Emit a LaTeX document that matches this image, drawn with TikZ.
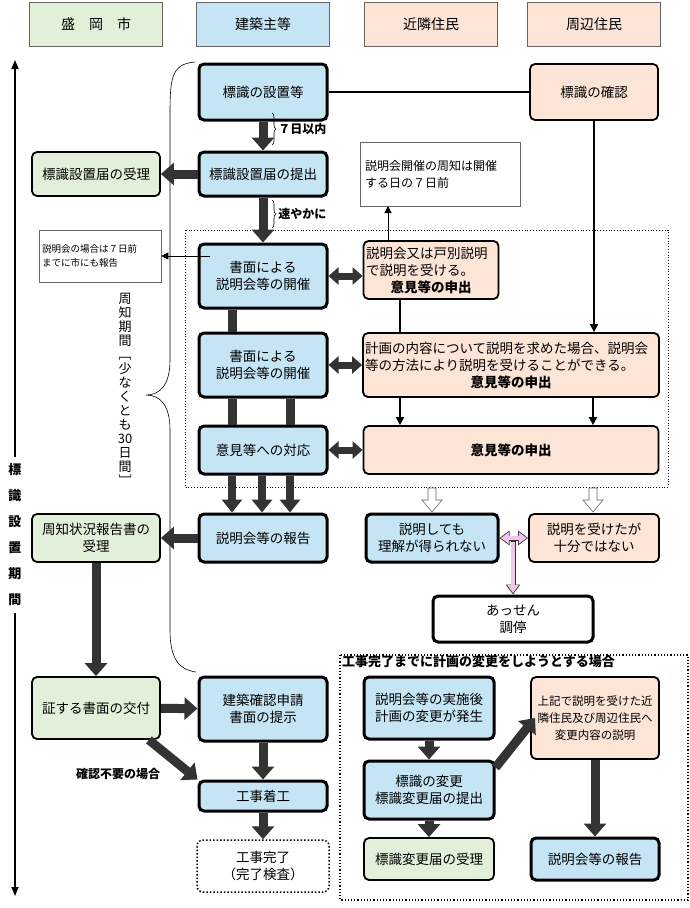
\documentclass[tikz,border=0pt]{standalone}
\usepackage{fontspec}
\setmainfont{Noto Sans CJK JP}
\usetikzlibrary{arrows.meta,decorations.pathreplacing}
\definecolor{gr}{HTML}{E2F0D9}
\definecolor{bl}{HTML}{C5E5F5}
\definecolor{pc}{HTML}{FCE4D6}
\definecolor{dk}{HTML}{333333}
\definecolor{pk}{HTML}{F2C6EC}
\begin{document}
\begin{tikzpicture}[x=1pt,y=-1pt,
  every node/.style={font=\fontsize{13.5}{17}\selectfont, align=center, inner sep=2pt},
  hdr/.style={draw=black!60, line width=0.6pt, minimum height=44pt, minimum width=133pt, font=\fontsize{14}{17}\selectfont},
  bx/.style={draw=black, rounded corners=5pt, line width=3pt, minimum width=128pt},
  gbx/.style={bx, fill=gr, line width=1.8pt},
  bbx/.style={bx, fill=bl},
  pbx/.style={bx, fill=pc, line width=1.8pt},
  note/.style={draw=black!60, line width=0.6pt, align=left, font=\fontsize{11}{15}\selectfont},
  fat/.style={draw=dk, line width=9pt, -{Triangle[width=22pt,length=13pt]}},
  bar/.style={draw=dk, line width=9pt},
  dbl/.style={draw=dk, line width=7pt, {Triangle[width=17pt,length=10pt]}-{Triangle[width=17pt,length=10pt]}},
  thin/.style={draw=black, line width=1.8pt, -{Triangle[width=8pt,length=8pt]}},
  hol/.style={draw=black!60, fill=white, line width=0.6pt},
]
\useasboundingbox (0,0) rectangle (690,908);
% headers
\node[hdr, fill=gr] (h1) at (96,24) {盛\quad 岡\quad 市};
\node[hdr, fill=bl] (h2) at (263,24) {建築主等};
\node[hdr, fill=pc] (h3) at (431,24) {近隣住民};
\node[hdr, fill=pc] (h4) at (594,24) {周辺住民};
% dotted frames
\draw[dotted, line width=0.8pt] (185,230) rectangle (668,487);
\draw[dotted, line width=1.2pt] (340,655) rectangle (688,900);
\node[anchor=north west, font=\bfseries\fontsize{13}{16}\selectfont, inner sep=1pt] (lbl) at (341,654) {工事完了までに計画の変更をしようとする場合};
% nodes
\node[bbx, minimum height=56pt] (a) at (263,92) {標識の設置等};
\node[pbx, minimum height=56pt] (k) at (594,92) {標識の確認};
\node[bbx, minimum height=44pt] (t) at (263,174) {標識設置届の提出};
\node[gbx, minimum height=44pt] (j) at (96,174) {標識設置届の受理};
\node[note, minimum width=160pt, minimum height=64pt, text width=150pt, font=\fontsize{12}{17}\selectfont] (n1) at (440,174) {説明会開催の周知は開催\\する日の７日前};
\node[note, minimum width=122pt, minimum height=52pt, text width=116pt, font=\fontsize{9.5}{14}\selectfont] (n2) at (100,256) {説明会の場合は７日前\\までに市にも報告};
\node[bbx, minimum height=64pt] (b1) at (263,276) {書面による\\説明会等の開催};
\node[pbx, minimum height=58pt, minimum width=135pt, text width=130pt] (p1) at (431,270) {\raggedright 説明会又は戸別説明\\で説明を受ける。\\\centering\bfseries 意見等の申出};
\node[bbx, minimum height=64pt] (b2) at (263,365) {書面による\\説明会等の開催};
\node[pbx, minimum height=64pt, minimum width=295pt, text width=292pt] (p2) at (511,365) {\raggedright 計画の内容について説明を求めた場合、説明会\\等の方法により説明を受けることができる。\\\centering\bfseries 意見等の申出};
\node[bbx, minimum height=48pt] (b3) at (263,450) {意見等への対応};
\node[pbx, minimum height=48pt, minimum width=295pt] (p3) at (511,450) {\bfseries 意見等の申出};
\node[bbx, minimum height=48pt] (b4) at (263,538) {説明会等の報告};
\node[gbx, minimum height=48pt] (g) at (96,538) {周知状況報告書の\\受理};
\node[bbx, minimum height=48pt, minimum width=132pt] (s1) at (432,538) {説明しても\\理解が得られない};
\node[pbx, minimum height=48pt, minimum width=130pt] (s2) at (594,538) {説明を受けたが\\十分ではない};
\node[bx, fill=white, minimum height=46pt, minimum width=160pt] (m) at (513,619) {あっせん\\調停};
\node[gbx, minimum height=62pt] (g2) at (96,708) {証する書面の交付};
\node[bbx, minimum height=64pt] (c) at (263,709) {建築確認申請\\書面の提示};
\node[bbx, minimum height=30pt] (w) at (263,796) {工事着工};
\node[draw=black, dotted, line width=1.5pt, rounded corners=6pt, minimum width=132pt, minimum height=52pt] (f) at (263,866) {工事完了\\（完了検査）};
\node[bbx, minimum height=62pt, minimum width=130pt] (r1) at (429,708) {説明会等の実施後\\計画の変更が発生};
\node[bbx, minimum height=58pt, minimum width=130pt] (r2) at (429,790) {標識の変更\\標識変更届の提出};
\node[gbx, minimum height=42pt, minimum width=130pt] (r3) at (429,859) {標識変更届の受理};
\node[pbx, minimum height=82pt, minimum width=128pt, font=\fontsize{11.5}{17}\selectfont] (r4) at (595,718) {上記で説明を受けた近\\隣住民及び周辺住民へ\\変更内容の説明};
\node[bbx, minimum height=42pt, minimum width=128pt] (r5) at (595,859) {説明会等の報告};
% left axis
\node[font=\bfseries\fontsize{13}{26}\selectfont] (ax) at (15,535) {標\\識\\設\\置\\期\\間};
\coordinate (axt) at (15,60);
\coordinate (axb) at (15,896);
\draw[line width=1.5pt, -{Triangle[width=7pt,length=9pt]}] (ax.north) ++(0,-5) -- (axt);
\draw[line width=1.5pt, -{Triangle[width=7pt,length=9pt]}] (ax.south) ++(0,5) -- (axb);
% brace
\coordinate (bt) at (195,62);
\coordinate (bm) at (146,395);
\coordinate (bb) at (196,672);
\draw[line width=0.6pt] (bt) .. controls (170,64) and (170,80) .. (170,120) -- (170,360) .. controls (170,385) and (160,395) .. (bm) .. controls (160,395) and (170,405) .. (170,430) -- (170,630) .. controls (170,660) and (180,670) .. (bb);
\node[font=\fontsize{13}{14}\selectfont] (pd) at (125,389) {周\\知\\期\\間\\﹇\\少\\な\\く\\と\\も\\30\\日\\間\\﹈};
% small braces
\draw[decorate, decoration={brace, amplitude=4pt}, line width=0.6pt] (272,113) -- (272,145) node[midway, right=4pt, font=\bfseries\fontsize{12}{14}\selectfont] (l7) {７日以内};
\draw[decorate, decoration={brace, amplitude=4pt}, line width=0.6pt] (272,200) -- (272,228) node[midway, right=4pt, font=\bfseries\fontsize{12}{14}\selectfont] (ly) {速やかに};
% connectors
\draw[line width=2pt] (a.east) -- (k.west);
\draw[thin] (k.south) -- (k.south |- p2.north);
\draw[fat] (a) -- (t);
\draw[fat] (t) -- (j);
\draw[fat] (t) -- (b1);
\draw[line width=0.8pt, -{Triangle[width=7pt,length=7pt]}] (b1.west |- n2.east) ++(12,0) -- (n2.east);
\draw[line width=1pt, -{Triangle[width=7pt,length=7pt]}] (p1.north -| 388,0) -- (388,206);
\draw[dbl] (b1) -- (p1.west |- b1);
\draw[dbl] (b2) -- (p2.west |- b2);
\draw[dbl] (b3) -- (p3);
\draw[bar] (b1.south -| 232,0) -- (b2.north -| 232,0);
\draw[bar] (b2.south -| 232,0) -- (b3.north -| 232,0);
\draw[bar] (b2.south -| 290,0) -- (b3.north -| 290,0);
\foreach \xx in {232,262,290} \draw[draw=dk, line width=8pt, -{Triangle[width=20pt,length=13pt]}] (b3.south -| \xx,0) -- (b4.north -| \xx,0);
\draw[line width=2pt] (p1.south -| 400,0) -- (p2.north -| 400,0);
\draw[thin] (p2.south -| 400,0) -- (p3.north -| 400,0);
\draw[thin] (p2.south -| 593,0) -- (p3.north -| 593,0);
\foreach \xx in {432,593} \draw[hol] (\xx-4,488) -- (\xx+4,488) -- (\xx+4,500) -- (\xx+10,500) -- (\xx,512) -- (\xx-10,500) -- (\xx-4,500) -- cycle;
\draw[fat] (b4) -- (g);
\draw[draw=dk, line width=5pt, {Triangle[width=14pt,length=10pt]}-{Triangle[width=14pt,length=10pt]}] (s1.east) -- (s2.west);
\draw[draw=dk, line width=5pt, -{Triangle[width=14pt,length=10pt]}] (513,540) -- (m.north);
\draw[draw=pk, line width=3.4pt, {Triangle[width=11pt,length=8pt]}-{Triangle[width=11pt,length=8pt]}] ([xshift=1.3pt]s1.east) -- ([xshift=-1.3pt]s2.west);
\draw[draw=pk, line width=3.4pt, -{Triangle[width=11pt,length=8pt]}] (513,542) -- ([yshift=1.5pt]m.north);
\draw[fat] (g) -- (g2);
\draw[fat] (g2) -- (c);
\draw[fat] (g2.south east) ++(-12,0) -- (w.north west);
\node[font=\bfseries\fontsize{12}{14}\selectfont] (nn) at (118,774) {確認不要の場合};
\draw[fat] (c) -- (w);
\draw[fat] (w) -- (f);
\draw[fat] (r1) -- (r2);
\draw[fat] (r2) -- (r3);
\draw[fat] (r2.north east) ++(0,8) -- (535,718);
\draw[fat] (r4) -- (r5);
\end{tikzpicture}
\end{document}
